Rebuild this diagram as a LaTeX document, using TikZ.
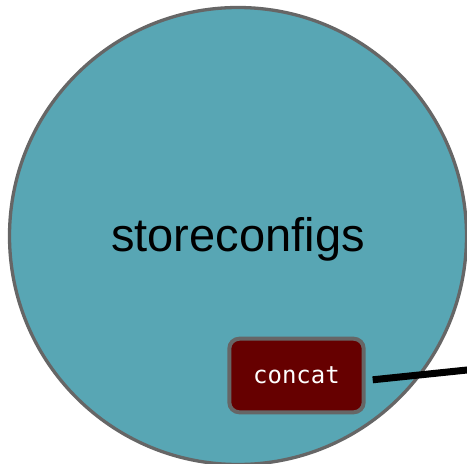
\documentclass[tikz,border=0pt]{standalone}
\usepackage{fontspec}
\setmainfont{Liberation Sans}
\newfontfamily\codefont{DejaVu Sans Mono}
\definecolor{clusterfill}{HTML}{58A6B4}
\definecolor{edgegray}{HTML}{666666}
\definecolor{funcred}{HTML}{660000}
\tikzset{
  cluster/.style={circle, fill=clusterfill, draw=edgegray, line width=3.3pt, inner sep=0pt},
  clusterlabel/.style={font=\fontsize{47}{47}\selectfont, text=black, inner sep=0pt, anchor=base},
  funcbox/.style={rectangle, rounded corners=10pt, fill=funcred, draw=edgegray, line width=4pt,
    minimum width=134.4pt, minimum height=73.6pt, inner sep=0pt,
    font=\codefont\fontsize{24}{24}\selectfont, text=white},
  link/.style={draw=black, line width=7pt, line cap=butt}
}
\begin{document}
\begin{tikzpicture}[x=1pt, y=-1pt]
  \useasboundingbox (0,0) rectangle (467,464);
  \clip (0,0) rectangle (467,464);
  % cluster circle with its title
  \node[cluster, minimum size=457pt] (store) at (238,236) {};
  \node[clusterlabel] (storelabel) at (238,251.7) {storeconfigs};
  % function node inside the cluster
  \node[funcbox] (concat) at (296.5,375.5) {\raisebox{1.5pt}{concat}};
  % outgoing connector towards a node beyond the frame
  \coordinate (tail) at ([xshift=7pt, yshift=-4.3pt]concat.east);
  \coordinate (far) at (600,356.2);
  \draw[link] (tail) -- (far);
\end{tikzpicture}
\end{document}
